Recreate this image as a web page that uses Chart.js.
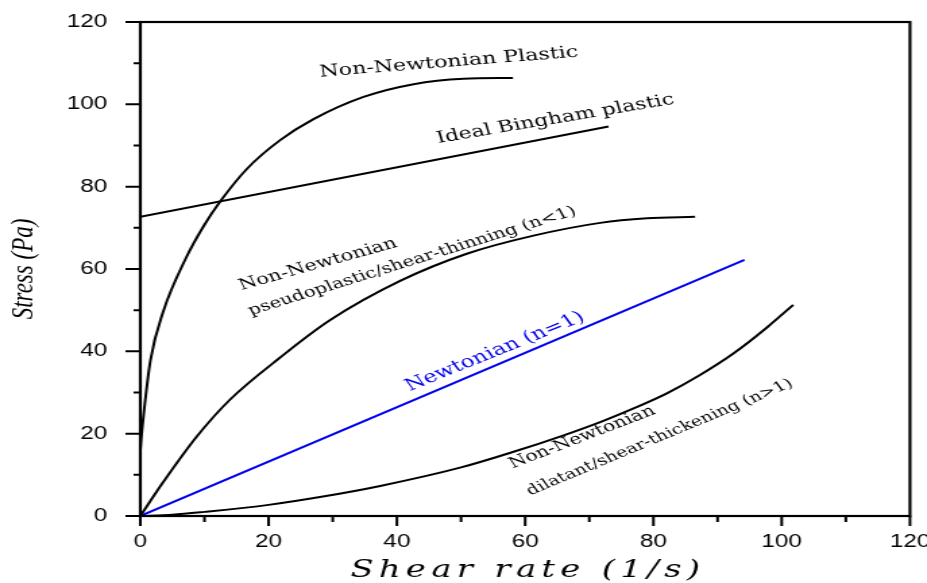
<!DOCTYPE html>
<html>
<head>
<meta charset="utf-8">
<script src="https://cdn.jsdelivr.net/npm/chart.js@4.4.1/dist/chart.umd.min.js"></script>
<style>
  html, body { margin: 0; padding: 0; background: #fff; overflow: hidden; }
  /* the reference is stretched sideways, so draw narrow and stretch */
  #wrap { width: 687px; height: 583px; transform: scaleX(1.3493); transform-origin: 0 0; }
</style>
</head>
<body>
<div id="wrap"><canvas id="chart" width="687" height="583"></canvas></div>
<script>
// axis ticks
var tickValues = [0, 20, 40, 60, 80, 100, 120];
var xTitle = 'Shear rate (1/s)';
var yTitle = 'Stress (Pa)';

// Non-Newtonian plastic
var plasticX = [0, 0.15, 0.52, 1.56, 3.6, 7.0, 9.9, 12.5, 16.6, 21.8, 27, 34.8, 42.6, 50.4, 58.1];
var plasticY = [16, 19, 24.7, 37.7, 49.8, 62.3, 70.5, 76.5, 84.3, 91.3, 96.4, 101.8, 104.9, 106.2, 106.4];

// Ideal Bingham plastic
var binghamX = [0, 73];
var binghamY = [72.7, 94.6];

// pseudoplastic / shear-thinning
var thinX = [0, 3.6, 8.8, 14, 21.8, 29.6, 40.5, 50.9, 61.3, 71.7, 79, 86.5];
var thinY = [0, 8.3, 19.3, 28.3, 38.5, 47.6, 57.1, 63.7, 68.1, 71.2, 72.3, 72.7];

// Newtonian
var newtonX = [0, 94.2];
var newtonY = [0, 62.2];

// dilatant / shear-thickening
var thickX = [0, 5, 10, 20, 28, 37.4, 50, 58.2, 66, 72, 77, 82.1, 87, 92.4, 97.7, 101.8];
var thickY = [0, 0.3, 1.0, 2.7, 4.6, 7.3, 11.8, 15.6, 19.6, 23, 26.2, 29.8, 34, 39.4, 45.8, 51.3];

function pts(xs, ys) {
    return xs.map(function (x, i) { return { x: x, y: ys[i] }; });
}

// text written on the plot (x, y in data units, slope = direction in data units)
var notes = [
    { text: 'Non-Newtonian Plastic', x: 48.1, y: 110.2, slope: 0.121, size: 16.5, color: '#000' },
    { text: 'Ideal Bingham plastic', x: 64.7, y: 96.4, slope: 0.26, size: 16.3, color: '#000' },
    { text: 'Non-Newtonian', x: 27.7, y: 61.1, slope: 0.433, size: 15.5, color: '#000' },
    { text: 'pseudoplastic/shear-thinning (n<1)', x: 42.4, y: 61.9, slope: 0.482, size: 14.6, color: '#000' },
    { text: 'Newtonian (n=1)', x: 55.3, y: 39.9, slope: 0.63, size: 17, color: '#0000ee' },
    { text: 'Non-Newtonian', x: 68.9, y: 19.1, slope: 0.596, size: 15, color: '#000' },
    { text: 'dilatant/shear-thickening (n>1)', x: 81, y: 19.1, slope: 0.648, size: 14, color: '#000' }
];

var notesPlugin = {
    id: 'notes',
    afterDatasetsDraw: function (chart) {
        var ctx = chart.ctx, xs = chart.scales.x, ys = chart.scales.y;
        notes.forEach(function (n) {
            var px = xs.getPixelForValue(n.x);
            var py = ys.getPixelForValue(n.y);
            var dx = xs.getPixelForValue(n.x + 1) - px;
            var dy = ys.getPixelForValue(n.y + n.slope) - py;
            ctx.save();
            ctx.translate(px, py);
            ctx.rotate(Math.atan2(dy, dx));
            ctx.font = n.size + 'px "DejaVu Serif"';
            ctx.fillStyle = n.color;
            ctx.textAlign = 'center';
            ctx.textBaseline = 'middle';
            ctx.fillText(n.text, 0, 0);
            ctx.restore();
        });
    }
};

// box around the plot, major / minor tick marks and the spaced axis titles
var framePlugin = {
    id: 'frame',
    afterDraw: function (chart) {
        var ctx = chart.ctx, a = chart.chartArea, xs = chart.scales.x, ys = chart.scales.y;
        ctx.save();
        ctx.strokeStyle = '#000';
        ctx.lineWidth = 2.2;
        ctx.strokeRect(a.left, a.top, a.right - a.left, a.bottom - a.top);
        ctx.lineWidth = 2;
        ctx.beginPath();
        xs.ticks.forEach(function (t) {
            var p = xs.getPixelForValue(t.value);
            var len = tickValues.indexOf(t.value) >= 0 ? 10 : 6;
            ctx.moveTo(p, a.bottom);
            ctx.lineTo(p, a.bottom + len);
        });
        ys.ticks.forEach(function (t) {
            var p = ys.getPixelForValue(t.value);
            var len = tickValues.indexOf(t.value) >= 0 ? 11 : 5;
            ctx.moveTo(a.left - len, p);
            ctx.lineTo(a.left, p);
        });
        ctx.stroke();

        ctx.fillStyle = '#000';
        ctx.textAlign = 'center';
        ctx.textBaseline = 'middle';
        ctx.font = 'italic 25px "DejaVu Serif"';
        ctx.letterSpacing = '4px';
        ctx.fillText(xTitle, (a.left + a.right) / 2 + 2, 570);
        ctx.translate(18, (a.top + a.bottom) / 2);
        ctx.rotate(-Math.PI / 2);
        ctx.font = 'italic 23px "Liberation Serif"';
        ctx.letterSpacing = '0px';
        ctx.fillText(yTitle, 0, 0);
        ctx.restore();
    }
};

function lineSet(label, xs, ys, color) {
    return {
        label: label,
        data: pts(xs, ys),
        showLine: true,
        borderColor: color,
        borderWidth: 2,
        pointRadius: 0,
        cubicInterpolationMode: 'monotone',
        fill: false
    };
}

var tickFont = { family: '"Liberation Sans"', size: 18 };

new Chart(document.getElementById('chart').getContext('2d'), {
    type: 'scatter',
    data: {
        datasets: [
            lineSet('Non-Newtonian Plastic', plasticX, plasticY, '#000'),
            lineSet('Ideal Bingham plastic', binghamX, binghamY, '#000'),
            lineSet('Non-Newtonian pseudoplastic/shear-thinning (n<1)', thinX, thinY, '#000'),
            lineSet('Newtonian (n=1)', newtonX, newtonY, '#0000ee'),
            lineSet('Non-Newtonian dilatant/shear-thickening (n>1)', thickX, thickY, '#000')
        ]
    },
    options: {
        responsive: false,
        animation: false,
        layout: { padding: { top: 22, right: 12.6, left: 0, bottom: 0 } },
        plugins: { legend: { display: false }, tooltip: { enabled: false } },
        scales: {
            x: {
                type: 'linear', min: 0, max: 120,
                grid: { display: false, drawTicks: false },
                border: { display: false },
                ticks: {
                    stepSize: 10, autoSkip: false, maxRotation: 0, padding: 15,
                    color: '#000', font: tickFont,
                    callback: function (v) { return tickValues.indexOf(v) >= 0 ? String(v) : ''; }
                },
                afterFit: function (s) { s.height = 67; s.paddingLeft = 0; s.paddingRight = 0; }
            },
            y: {
                type: 'linear', min: 0, max: 120,
                grid: { display: false, drawTicks: false },
                border: { display: false },
                ticks: {
                    stepSize: 10, autoSkip: false, padding: 24.5,
                    color: '#000', font: tickFont,
                    callback: function (v) { return tickValues.indexOf(v) >= 0 ? String(v) : ''; }
                },
                afterFit: function (s) { s.width = 104; s.paddingTop = 0; s.paddingBottom = 0; }
            }
        }
    },
    plugins: [notesPlugin, framePlugin]
});
</script>
</body>
</html>
